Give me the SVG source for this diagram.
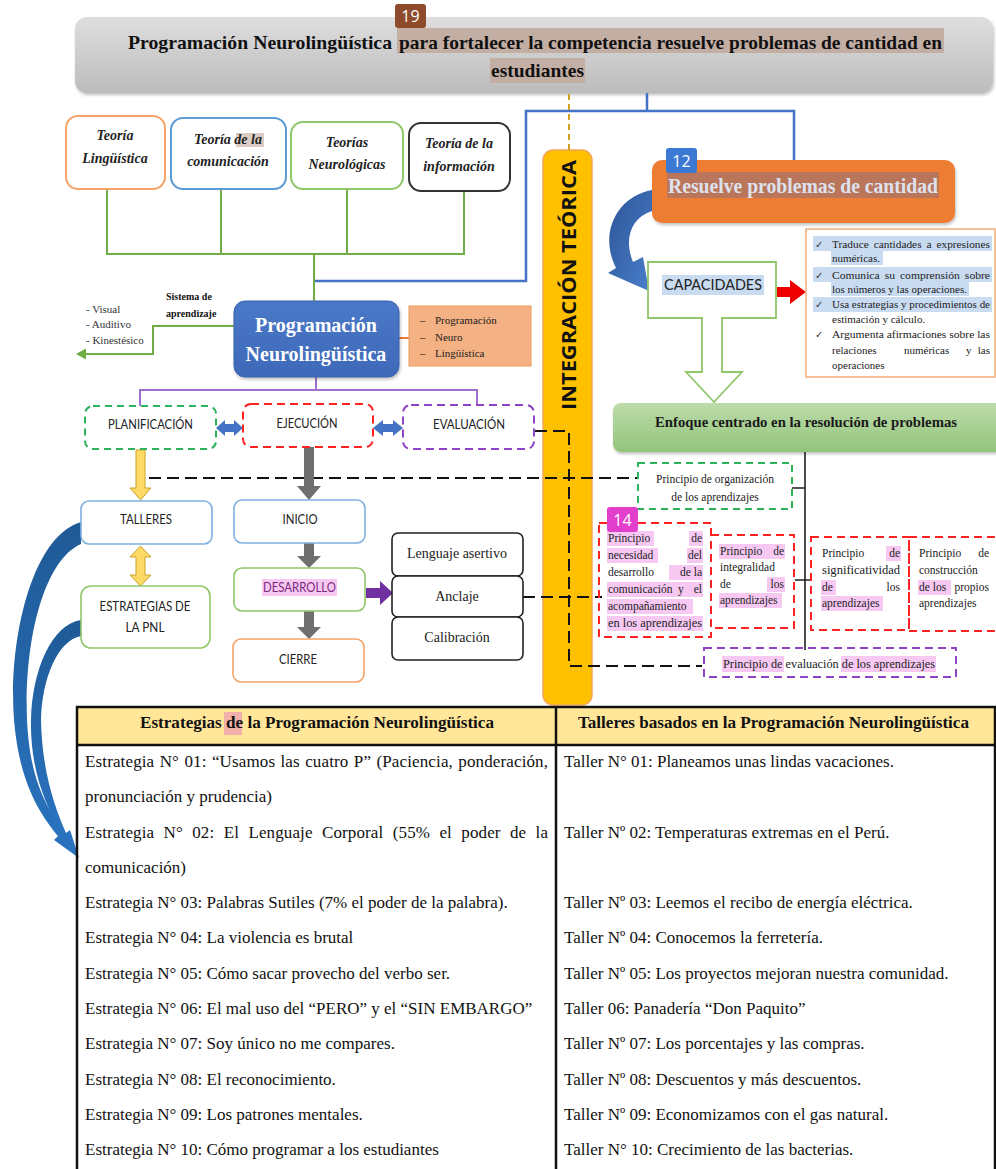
<svg xmlns="http://www.w3.org/2000/svg" width="996" height="1169" viewBox="0 0 996 1169">
<defs>
  <linearGradient id="gHead" x1="0" y1="0" x2="0" y2="1"><stop offset="0" stop-color="#dedede"/><stop offset="1" stop-color="#bcbcbc"/></linearGradient>
  <linearGradient id="gEnf" x1="0" y1="0" x2="0" y2="1"><stop offset="0" stop-color="#bddcaa"/><stop offset="1" stop-color="#92c47b"/></linearGradient>
  <linearGradient id="gBlueA" x1="0" y1="0" x2="1" y2="1"><stop offset="0" stop-color="#2c5496"/><stop offset="1" stop-color="#4a7fcc"/></linearGradient>
  <linearGradient id="gBlueL" x1="0" y1="0" x2="0" y2="1"><stop offset="0" stop-color="#1f5a96"/><stop offset="1" stop-color="#2a73c0"/></linearGradient>
  <linearGradient id="gPNL" x1="0" y1="0" x2="0" y2="1"><stop offset="0" stop-color="#4a78c8"/><stop offset="1" stop-color="#3e69b8"/></linearGradient>
  <filter id="sh" x="-10%" y="-10%" width="120%" height="130%"><feDropShadow dx="1" dy="2" stdDeviation="1.5" flood-color="#000" flood-opacity="0.25"/></filter>
</defs>
<style>
  .serif{font-family:"Liberation Serif","Times New Roman",serif}
  .sans{font-family:Lato,"Liberation Sans",Arial,sans-serif}
  .osans{font-family:"Open Sans","Liberation Sans",sans-serif}
  .b{font-weight:bold}
  .bi{font-weight:bold;font-style:italic}
  .thy{font-size:14px;fill:#222}
  .lbl{font-size:13px;fill:#222}
  .pr{font-size:11.5px;fill:#222}
  .cap{font-size:11px;fill:#222}
  .tb{font-size:17px;fill:#111}
  .hl{fill:#f6c8f2}
  .hlb{fill:#c9dbf1}
  .dashG{fill:none;stroke:#2db35a;stroke-width:2;stroke-dasharray:7 5}
  .dashR{fill:none;stroke:#ff2222;stroke-width:2;stroke-dasharray:8 5}
  .dashP{fill:none;stroke:#8e44c4;stroke-width:2;stroke-dasharray:8 5}
  .badge{font-size:16px;fill:#fff}
  .blk{fill:none;stroke:#111;stroke-width:2;stroke-dasharray:12 6}
</style>
<rect width="996" height="1169" fill="#fff"/>

<!-- Title -->
<g id="title">
  <rect x="75" y="17" width="918" height="76" rx="12" fill="url(#gHead)" filter="url(#sh)"/>
  <rect x="397" y="28" width="547" height="25" fill="#c3aea4"/>
  <rect x="490" y="58" width="95" height="25" fill="#c3aea4"/>
  <text class="serif b" font-size="19" fill="#111" x="128" y="49" textLength="264" lengthAdjust="spacingAndGlyphs">Programación Neurolingüística</text>
  <text class="serif b" font-size="19" fill="#111" x="399" y="49" textLength="543" lengthAdjust="spacingAndGlyphs">para fortalecer la competencia resuelve problemas de cantidad en</text>
  <text class="serif b" font-size="19" fill="#111" x="491" y="77" textLength="93" lengthAdjust="spacingAndGlyphs">estudiantes</text>
  <rect x="395" y="4" width="31" height="24" rx="3" fill="#8e4b2c"/>
  <text class="osans badge" x="410.5" y="22" text-anchor="middle">19</text>
</g>

<!-- Integration bar -->
<g id="integracion">
  <rect x="543" y="150" width="49" height="555" rx="10" fill="#ffc000" stroke="#f2a65a" stroke-width="1.5"/>
  <text class="osans b" font-size="20" fill="#111" transform="translate(576,285) rotate(-90)" text-anchor="middle" textLength="250" lengthAdjust="spacingAndGlyphs">INTEGRACIÓN TEÓRICA</text>
</g>

<!-- Connectors -->
<g id="connectors">
  <path d="M107,189 V254 M221,189 V254 M347,189 V254 M464,192 V254 M106,254 H465 M314,254 V301" fill="none" stroke="#70ad47" stroke-width="2"/>
  <path d="M315,281 H526 V111 H794 V160 M647,93 V111" fill="none" stroke="#4472c4" stroke-width="2.5"/>
  <path d="M569,94 V150" fill="none" stroke="#d4a020" stroke-width="2" stroke-dasharray="6 4"/>
  <path d="M316,377 V390 M139,390 H478 M140,390 V406 M477,390 V405" fill="none" stroke="#9d6fd0" stroke-width="2"/>
  <path d="M399,338 H409" fill="none" stroke="#ed7d31" stroke-width="2"/>
  <path d="M234,326 H153 V354 H84" fill="none" stroke="#70ad47" stroke-width="2"/>
  <polygon points="76,354 86,348.5 86,359.5" fill="#70ad47"/>
  <path class="blk" d="M535,431 H569 V666 H702"/>
  <path class="blk" d="M149,478 H638"/>
  <path class="blk" d="M523,597 H602"/>
  <path d="M805,452 V650 M792,488 H805 M795,580 H812" fill="none" stroke="#222" stroke-width="1.6"/>
  <path d="M216,428 L225,420 V424 H234 V420 L243,428 L234,436 V432 H225 V436 Z" fill="#4472c4"/>
  <path d="M373,428 L383,420 V424 H393 V420 L403,428 L393,436 V432 H383 V436 Z" fill="#4472c4"/>
  <path d="M136,450 H145 V488 H151 L140.5,500 L130,488 H136 Z" fill="#ffd966" stroke="#c9a227" stroke-width="1"/>
  <path d="M140.5,546 L151,557 H145 V575 H151 L140.5,586 L130,575 H136 V557 H130 Z" fill="#ffd966" stroke="#c9a227" stroke-width="1"/>
  <path d="M304,447 H314 V486 H321 L309,500 L297,486 H304 Z" fill="#6f6f6f"/>
  <path d="M304,543 H314 V556 H321 L309,568 L297,556 H304 Z" fill="#6f6f6f"/>
  <path d="M304,611 H314 V627 H321 L309,639 L297,627 H304 Z" fill="#6f6f6f"/>
  <path d="M366,588 H380 V581 L393,593 L380,605 V598 H366 Z" fill="#7030a0"/>
  <path d="M777,287 H790 V280 L806,292 L790,304 V297 H777 Z" fill="#ee0000"/>
  <path d="M652,190 C618,196 598,232 616,268 L608,273 L649,291 L643,257 L633,262 C624,240 630,218 652,211 Z" fill="url(#gBlueA)"/>
  <path d="M81,522 C32,536 8,640 14,720 C19,780 38,812 58,836 L54,840 L79,858 L70,830 L66,833 C46,808 30,780 27,720 C24,640 44,560 81,544 Z" fill="url(#gBlueL)"/>
  <path d="M81,620 C52,624 32,670 31,720 C30,770 46,806 60,830 L66,833 C54,806 42,770 41,720 C42,678 58,640 81,636 Z" fill="url(#gBlueL)"/>
</g>

<!-- Theory boxes -->
<g id="teoria-linguistica">
  <rect x="66" y="116" width="99" height="73" rx="12" fill="#fff" stroke="#f4a46a" stroke-width="2"/>
  <text class="serif bi thy" x="115" y="140" text-anchor="middle">Teoría</text>
  <text class="serif bi thy" x="115" y="163" text-anchor="middle">Lingüística</text>
</g>
<g id="teoria-comunicacion">
  <rect x="171" y="118" width="115" height="71" rx="12" fill="#fff" stroke="#5b9bd5" stroke-width="2"/>
  <rect x="236" y="133" width="28" height="14" fill="#dccdc4"/>
  <text class="serif bi thy" x="228" y="144" text-anchor="middle">Teoría de la</text>
  <text class="serif bi thy" x="228" y="166" text-anchor="middle">comunicación</text>
</g>
<g id="teorias-neurologicas">
  <rect x="291" y="122" width="112" height="67" rx="12" fill="#fff" stroke="#8fc76a" stroke-width="2"/>
  <text class="serif bi thy" x="347" y="147" text-anchor="middle">Teorías</text>
  <text class="serif bi thy" x="347" y="169" text-anchor="middle">Neurológicas</text>
</g>
<g id="teoria-informacion">
  <rect x="409" y="123" width="101" height="68" rx="12" fill="#fff" stroke="#333" stroke-width="2"/>
  <text class="serif bi thy" x="459" y="148" text-anchor="middle">Teoría de la</text>
  <text class="serif bi thy" x="459" y="171" text-anchor="middle">información</text>
</g>

<!-- PNL -->
<g id="pnl">
  <rect x="234" y="301" width="165" height="76" rx="11" fill="url(#gPNL)" stroke="#3a63ad" stroke-width="1" filter="url(#sh)"/>
  <text class="serif b" font-size="20" fill="#fff" x="316" y="332" text-anchor="middle">Programación</text>
  <text class="serif b" font-size="20" fill="#fff" x="316" y="361" text-anchor="middle">Neurolingüística</text>
</g>
<g id="pnl-partes">
  <rect x="409" y="306" width="122" height="60" fill="#f4b183" stroke="#ed9a5a" stroke-width="1"/>
  <text class="serif" font-size="11" fill="#222" x="420" y="324">–</text>
  <text class="serif" font-size="11" fill="#222" x="435" y="324">Programación</text>
  <text class="serif" font-size="11" fill="#222" x="420" y="341">–</text>
  <text class="serif" font-size="11" fill="#222" x="435" y="341">Neuro</text>
  <text class="serif" font-size="11" fill="#222" x="420" y="357">–</text>
  <text class="serif" font-size="11" fill="#222" x="435" y="357">Lingüística</text>
</g>
<g id="sistema-aprendizaje">
  <text class="serif b" font-size="10" fill="#111" x="166" y="300">Sistema de</text>
  <text class="serif b" font-size="10" fill="#111" x="166" y="317">aprendizaje</text>
  <text class="serif" font-size="11" fill="#333" x="86" y="313">- Visual</text>
  <text class="serif" font-size="11" fill="#333" x="86" y="328">- Auditivo</text>
  <text class="serif" font-size="11" fill="#333" x="86" y="344">- Kinestésico</text>
</g>

<!-- Phases -->
<g id="planificacion">
  <rect x="85" y="406" width="131" height="43" rx="8" fill="#fff" class="dashG"/>
  <text class="sans lbl" x="150.5" y="429" text-anchor="middle" textLength="85" lengthAdjust="spacingAndGlyphs">PLANIFICACIÓN</text>
</g>
<g id="ejecucion">
  <rect x="243" y="404" width="130" height="43" rx="8" fill="#fff" class="dashR"/>
  <text class="sans lbl" x="307" y="428" text-anchor="middle" textLength="61" lengthAdjust="spacingAndGlyphs">EJECUCIÓN</text>
</g>
<g id="evaluacion">
  <rect x="403" y="405" width="131" height="44" rx="8" fill="#fff" class="dashP"/>
  <text class="sans lbl" x="469" y="429" text-anchor="middle" textLength="72" lengthAdjust="spacingAndGlyphs">EVALUACIÓN</text>
</g>
<g id="talleres">
  <rect x="81" y="501" width="131" height="43" rx="8" fill="#fff" stroke="#7fb0e0" stroke-width="1.6"/>
  <text class="sans lbl" x="146" y="524" text-anchor="middle" textLength="52" lengthAdjust="spacingAndGlyphs">TALLERES</text>
</g>
<g id="estrategias-pnl">
  <rect x="81" y="586" width="129" height="62" rx="10" fill="#fff" stroke="#8fc76a" stroke-width="1.6"/>
  <text class="sans lbl" x="145" y="611" text-anchor="middle" textLength="91" lengthAdjust="spacingAndGlyphs">ESTRATEGIAS DE</text>
  <text class="sans lbl" x="145" y="632" text-anchor="middle" textLength="39" lengthAdjust="spacingAndGlyphs">LA PNL</text>
</g>
<g id="inicio">
  <rect x="234" y="500" width="131" height="43" rx="8" fill="#fff" stroke="#7fb0e0" stroke-width="1.6"/>
  <text class="sans lbl" x="300" y="524" text-anchor="middle" textLength="35" lengthAdjust="spacingAndGlyphs">INICIO</text>
</g>
<g id="desarrollo">
  <rect x="234" y="568" width="131" height="43" rx="8" fill="#fff" stroke="#8fc76a" stroke-width="1.6"/>
  <rect x="262" y="579" width="75" height="17" fill="#f6c8f2"/>
  <text class="sans lbl" x="299.5" y="592" text-anchor="middle" textLength="73" lengthAdjust="spacingAndGlyphs" style="fill:#7a2a7a">DESARROLLO</text>
</g>
<g id="cierre">
  <rect x="233" y="639" width="131" height="43" rx="8" fill="#fff" stroke="#f4a46a" stroke-width="1.6"/>
  <text class="sans lbl" x="298" y="664" text-anchor="middle" textLength="38" lengthAdjust="spacingAndGlyphs">CIERRE</text>
</g>
<g id="lenguaje-asertivo">
  <rect x="392" y="533" width="131" height="43" rx="6" fill="#fff" stroke="#222" stroke-width="1.6"/>
  <text class="serif" font-size="14" fill="#222" x="457" y="558" text-anchor="middle">Lenguaje asertivo</text>
</g>
<g id="anclaje">
  <rect x="392" y="576" width="131" height="41" rx="6" fill="#fff" stroke="#222" stroke-width="1.6"/>
  <text class="serif" font-size="14" fill="#222" x="457" y="601" text-anchor="middle">Anclaje</text>
</g>
<g id="calibracion">
  <rect x="392" y="617" width="131" height="43" rx="6" fill="#fff" stroke="#222" stroke-width="1.6"/>
  <text class="serif" font-size="14" fill="#222" x="457" y="642" text-anchor="middle">Calibración</text>
</g>

<!-- Right side -->
<g id="resuelve">
  <rect x="652" y="160" width="303" height="63" rx="10" fill="#ed7d31" filter="url(#sh)"/>
  <rect x="667" y="172" width="272" height="26" fill="#b9765a"/>
  <text class="serif b" font-size="21" fill="#dde2ee" x="668" y="193" textLength="270" lengthAdjust="spacingAndGlyphs">Resuelve problemas de cantidad</text>
  <rect x="666" y="148" width="31" height="25" rx="3" fill="#3b79d3"/>
  <text class="osans badge" x="681.5" y="167" text-anchor="middle">12</text>
</g>
<g id="capacidades">
  <path d="M648,262 H776 V318 H722 V372 H742 L714,402 L686,372 H702 V318 H648 Z" fill="#fff" stroke="#8fc76a" stroke-width="1.8"/>
  <rect x="662" y="275" width="102" height="20" fill="#c9dbf1"/>
  <text class="sans" font-size="16" fill="#222" x="664" y="290" textLength="98" lengthAdjust="spacingAndGlyphs">CAPACIDADES</text>
</g>
<g id="lista-capacidades">
  <rect x="806" y="229" width="189" height="148" fill="#fff" stroke="#f4b183" stroke-width="1.6"/>
  <rect class="hlb" x="813" y="236" width="179" height="15"/>
  <rect class="hlb" x="831" y="251" width="52" height="14"/>
  <rect class="hlb" x="813" y="267" width="179" height="15"/>
  <rect class="hlb" x="831" y="282" width="138" height="14"/>
  <rect class="hlb" x="813" y="297" width="179" height="15"/>
  <g font-family="'DejaVu Sans',sans-serif" font-size="10" fill="#333">
    <text x="815" y="248">✓</text><text x="815" y="279">✓</text><text x="815" y="308">✓</text><text x="815" y="338">✓</text>
  </g>
  <g class="serif cap">
    <text x="832" y="248" textLength="158" lengthAdjust="spacingAndGlyphs" word-spacing="2">Traduce cantidades a expresiones</text>
    <text x="832" y="262">numéricas.</text>
    <text x="832" y="279" textLength="158" lengthAdjust="spacingAndGlyphs" word-spacing="2">Comunica su comprensión sobre</text>
    <text x="832" y="293" textLength="135" lengthAdjust="spacingAndGlyphs">los números y las operaciones.</text>
    <text x="832" y="308" textLength="158" lengthAdjust="spacingAndGlyphs">Usa estrategias y procedimientos de</text>
    <text x="832" y="323">estimación y cálculo.</text>
    <text x="832" y="338" textLength="158" lengthAdjust="spacingAndGlyphs">Argumenta afirmaciones sobre las</text>
    <text x="832" y="354">relaciones</text><text x="904" y="354">numéricas</text><text x="966" y="354">y</text><text x="990" y="354" text-anchor="end">las</text>
    <text x="832" y="369">operaciones</text>
  </g>
</g>
<g id="enfoque">
  <rect x="613" y="403" width="395" height="49" rx="8" fill="url(#gEnf)" filter="url(#sh)"/>
  <text class="serif b" font-size="14.5" fill="#1a1a1a" x="806" y="427" text-anchor="middle" textLength="302" lengthAdjust="spacingAndGlyphs">Enfoque centrado en la resolución de problemas</text>
</g>
<g id="principio-organizacion">
  <rect x="638" y="463" width="154" height="46" fill="#fff" class="dashG"/>
  <text class="serif pr" x="715" y="483" text-anchor="middle">Principio de organización</text>
  <text class="serif pr" x="715" y="501" text-anchor="middle">de los aprendizajes</text>
</g>
<g id="principio-necesidad">
  <rect x="599" y="523" width="112" height="114" fill="#fff" class="dashR"/>
  <rect class="hl" x="607" y="531" width="47" height="15"/><rect class="hl" x="689" y="531" width="14" height="15"/>
  <rect class="hl" x="607" y="548" width="51" height="15"/><rect class="hl" x="687" y="548" width="16" height="15"/>
  <rect class="hl" x="669" y="565" width="34" height="15"/>
  <rect class="hl" x="607" y="582" width="96" height="15"/>
  <rect class="hl" x="607" y="599" width="86" height="15"/>
  <rect class="hl" x="607" y="616" width="96" height="15"/>
  <text class="serif pr" x="608" y="542">Principio</text><text class="serif pr" x="702" y="542" text-anchor="end">de</text>
  <text class="serif pr" x="608" y="559">necesidad</text><text class="serif pr" x="702" y="559" text-anchor="end">del</text>
  <text class="serif pr" x="608" y="576">desarrollo</text><text class="serif pr" x="702" y="576" text-anchor="end">de la</text>
  <text class="serif pr" x="608" y="593">comunicación</text><text class="serif pr" x="678" y="593">y</text><text class="serif pr" x="702" y="593" text-anchor="end">el</text>
  <text class="serif pr" x="608" y="610">acompañamiento</text>
  <text class="serif pr" x="608" y="627" textLength="94" lengthAdjust="spacingAndGlyphs">en los aprendizajes</text>
  <rect x="607" y="507" width="31" height="25" rx="3" fill="#e23fcd"/>
  <text class="osans badge" x="622.5" y="526" text-anchor="middle">14</text>
</g>
<g id="principio-integralidad">
  <rect x="711" y="535" width="83" height="93" fill="#fff" class="dashR"/>
  <rect class="hl" x="719" y="544" width="66" height="15"/>
  <rect class="hl" x="767" y="577" width="18" height="15"/>
  <rect class="hl" x="719" y="593" width="63" height="15"/>
  <text class="serif pr" x="720" y="555">Principio</text><text class="serif pr" x="784" y="555" text-anchor="end">de</text>
  <text class="serif pr" x="720" y="571">integralidad</text>
  <text class="serif pr" x="720" y="588">de</text><text class="serif pr" x="784" y="588" text-anchor="end">los</text>
  <text class="serif pr" x="720" y="604">aprendizajes</text>
</g>
<g id="principio-significatividad">
  <rect x="811" y="537" width="98" height="93" fill="#fff" class="dashR"/>
  <rect class="hl" x="886" y="546" width="15" height="15"/>
  <rect class="hl" x="821" y="580" width="15" height="15"/>
  <rect class="hl" x="821" y="596" width="62" height="15"/>
  <text class="serif pr" x="822" y="557">Principio</text><text class="serif pr" x="900" y="557" text-anchor="end">de</text>
  <text class="serif pr" x="822" y="574" textLength="78" lengthAdjust="spacingAndGlyphs">significatividad</text>
  <text class="serif pr" x="822" y="591">de</text><text class="serif pr" x="900" y="591" text-anchor="end">los</text>
  <text class="serif pr" x="822" y="607">aprendizajes</text>
</g>
<g id="principio-construccion">
  <rect x="909" y="537" width="100" height="94" fill="#fff" class="dashR"/>
  <rect class="hl" x="918" y="580" width="33" height="15"/>
  <text class="serif pr" x="919" y="557">Principio</text><text class="serif pr" x="989" y="557" text-anchor="end">de</text>
  <text class="serif pr" x="919" y="574">construcción</text>
  <text class="serif pr" x="919" y="591">de los</text><text class="serif pr" x="989" y="591" text-anchor="end">propios</text>
  <text class="serif pr" x="919" y="607">aprendizajes</text>
</g>
<g id="principio-evaluacion">
  <rect x="704" y="648" width="252" height="29" fill="#fff" class="dashP"/>
  <rect class="hl" x="722" y="656" width="62" height="16"/>
  <rect class="hl" x="841" y="656" width="95" height="16"/>
  <text class="serif pr" x="723" y="668" textLength="212" lengthAdjust="spacingAndGlyphs">Principio de evaluación de los aprendizajes</text>
</g>

<!-- Table -->
<g id="tabla">
  <rect x="77" y="707" width="479" height="38" fill="#ffe699"/>
  <rect x="556" y="707" width="439" height="38" fill="#ffe699"/>
  <rect x="224" y="712" width="18" height="23" fill="#f2b0aa"/>
  <path d="M77,1172 V707 H995 V1172 M77,745 H995 M556,707 V1172" fill="none" stroke="#111" stroke-width="2.5"/>
  <text class="serif b" font-size="16" fill="#111" x="140" y="728" textLength="354" lengthAdjust="spacingAndGlyphs">Estrategias de la Programación Neurolingüística</text>
  <text class="serif b" font-size="16" fill="#111" x="578" y="728" textLength="391" lengthAdjust="spacingAndGlyphs">Talleres basados en la Programación Neurolingüística</text>
  <g class="serif tb">
    <text x="85" y="767" textLength="463" lengthAdjust="spacing" word-spacing="1">Estrategia N° 01: “Usamos las cuatro P” (Paciencia, ponderación,</text>
    <text x="85" y="802">pronunciación y prudencia)</text>
    <text x="85" y="838" textLength="463" lengthAdjust="spacing" word-spacing="5">Estrategia N° 02: El Lenguaje Corporal (55% el poder de la</text>
    <text x="85" y="873">comunicación)</text>
    <text x="85" y="908">Estrategia N° 03: Palabras Sutiles (7% el poder de la palabra).</text>
    <text x="85" y="943">Estrategia N° 04: La violencia es brutal</text>
    <text x="85" y="979">Estrategia N° 05: Cómo sacar provecho del verbo ser.</text>
    <text x="85" y="1014">Estrategia N° 06: El mal uso del “PERO” y el “SIN EMBARGO”</text>
    <text x="85" y="1049">Estrategia N° 07: Soy único no me compares.</text>
    <text x="85" y="1085">Estrategia N° 08: El reconocimiento.</text>
    <text x="85" y="1120">Estrategia N° 09: Los patrones mentales.</text>
    <text x="85" y="1155">Estrategia N° 10: Cómo programar a los estudiantes</text>
    <text x="564" y="767">Taller N° 01: Planeamos unas lindas vacaciones.</text>
    <text x="564" y="838">Taller Nº 02: Temperaturas extremas en el Perú.</text>
    <text x="564" y="908">Taller Nº 03: Leemos el recibo de energía eléctrica.</text>
    <text x="564" y="943">Taller Nº 04: Conocemos la ferretería.</text>
    <text x="564" y="979">Taller Nº 05: Los proyectos mejoran nuestra comunidad.</text>
    <text x="564" y="1014">Taller 06: Panadería “Don Paquito”</text>
    <text x="564" y="1049">Taller Nº 07: Los porcentajes y las compras.</text>
    <text x="564" y="1085">Taller Nº 08: Descuentos y más descuentos.</text>
    <text x="564" y="1120">Taller Nº 09: Economizamos con el gas natural.</text>
    <text x="564" y="1155">Taller N° 10: Crecimiento de las bacterias.</text>
  </g>
</g>
</svg>
